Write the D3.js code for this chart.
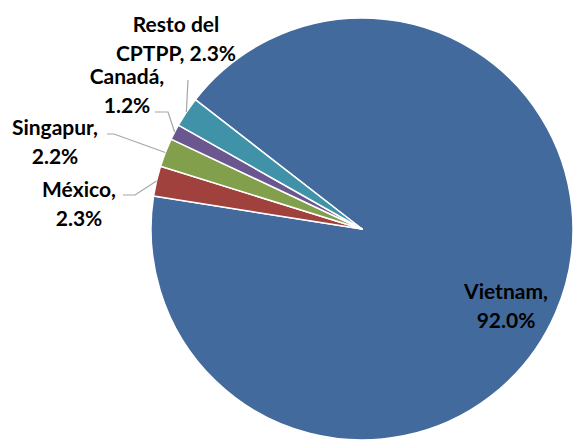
<!DOCTYPE html>
<html>
<head>
<meta charset="utf-8">
<script src="https://cdn.jsdelivr.net/npm/d3@7"></script>
<style>
  body { margin: 0; background: #fff; }
  svg text { font-family: Lato, "Open Sans", sans-serif; font-weight: bold; fill: #000; }
</style>
</head>
<body>
<div id="chart"></div>
<script>
// Data
const countries = ['Vietnam', 'México', 'Singapur', 'Canadá', 'Resto del CPTPP']
const shares = [92.0, 2.3, 2.2, 1.2, 2.3]
const colours = ['#436a9c', '#a1413e', '#82a04b', '#6b578f', '#3f92a8']

// label text lines
const labelLines = [
  ['Vietnam,', '92.0%'],
  ['México,', '2.3%'],
  ['Singapur,', '2.2%'],
  ['Canadá,', '1.2%'],
  ['Resto del', 'CPTPP, 2.3%']
]

// Dimensions
let dimensions = {
  width: 573,
  height: 441,
  cx: 362,
  cy: 229,
  radius: 211,
  lineGap: 29
}

// label layout (centre of first line) and leader elbow
const labelLayout = [
  { x: 506, y: 292, leader: null },
  { x: 79, y: 190, leader: [[123, 195], [135, 195]] },
  { x: 55, y: 128, leader: [[107, 134], [114, 134]] },
  { x: 127, y: 77, leader: [[155, 112], [168, 112]] },
  { x: 176, y: 25, leader: [[188, 80], [188, 80]] }
]

const svg = d3.select('#chart')
  .append('svg')
    .attr('width', dimensions.width)
    .attr('height', dimensions.height)

const ctr = svg.append('g')
  .attr('transform', `translate(${dimensions.cx}, ${dimensions.cy})`)

const start = -52.2 * Math.PI / 180

const pie = d3.pie()
  .sort(null)
  .value(d => d)
  .startAngle(start)
  .endAngle(start + 2 * Math.PI)

const arcs = pie(shares)

const arc = d3.arc()
  .innerRadius(0)
  .outerRadius(dimensions.radius)

ctr.selectAll('path')
  .data(arcs)
  .join('path')
  .attr('d', arc)
  .attr('fill', (d, i) => colours[i])
  .attr('stroke', '#fff')
  .attr('stroke-width', 1.5)
  .attr('stroke-linejoin', 'round')

// leader lines, ending on the slice edge
arcs.forEach((a, i) => {
  const lay = labelLayout[i]
  if (!lay.leader) return
  const mid = (a.startAngle + a.endAngle) / 2
  const ex = dimensions.cx + Math.sin(mid) * dimensions.radius
  const ey = dimensions.cy - Math.cos(mid) * dimensions.radius
  const pts = [...lay.leader, [ex, ey]]
  svg.append('path')
    .attr('d', d3.line()(pts))
    .attr('fill', 'none')
    .attr('stroke', '#a6a6a6')
    .attr('stroke-width', 1.2)
})

// labels
labelLines.forEach((lines, i) => {
  const lay = labelLayout[i]
  const t = svg.append('text')
    .attr('text-anchor', 'middle')
    .attr('font-size', 21)
  lines.forEach((ln, j) => {
    t.append('tspan')
      .attr('x', lay.x)
      .attr('y', lay.y + j * dimensions.lineGap)
      .attr('dy', '0.35em')
      .text(ln)
  })
})
</script>
</body>
</html>
